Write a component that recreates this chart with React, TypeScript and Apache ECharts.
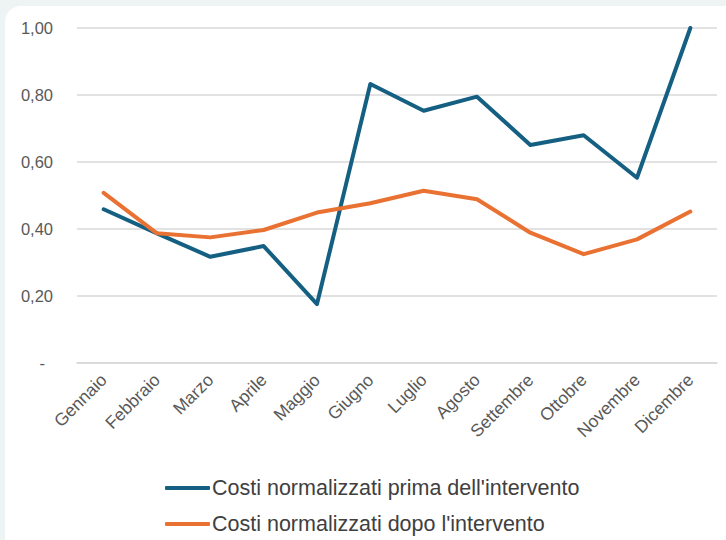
import React, { useEffect, useRef } from "react";
import * as echarts from "echarts";

const months = ["Gennaio", "Febbraio", "Marzo", "Aprile", "Maggio", "Giugno", "Luglio", "Agosto", "Settembre", "Ottobre", "Novembre", "Dicembre"];
const before = [0.459, 0.387, 0.317, 0.349, 0.176, 0.833, 0.753, 0.795, 0.651, 0.68, 0.553, 1.0];
const after = [0.508, 0.387, 0.375, 0.397, 0.449, 0.477, 0.514, 0.489, 0.389, 0.325, 0.369, 0.452];
const seriesNames = ["Costi normalizzati prima dell'intervento", "Costi normalizzati dopo l'intervento"];
const colors = ["#156082", "#E97132"];

export default function App() {
  const ref = useRef<HTMLDivElement>(null);
  useEffect(() => {
    document.body.style.margin = "0";
    const chart = echarts.init(ref.current!, null, { renderer: "svg" });
    const legendText = { fontFamily: "Liberation Sans", fontSize: 21.5, color: "#404040", lineHeight: 24, padding: [0, 0, 0, -3] };
    chart.setOption({
      animation: false,
      backgroundColor: "#eef4f4",
      graphic: [
        {
          type: "rect",
          z: -10,
          silent: true,
          shape: { x: 5, y: 6, width: 740, height: 560, r: 16 },
          style: { fill: "#ffffff" },
        },
      ],
      grid: { left: 77, right: 9, top: 28, bottom: 177 },
      legend: [
        {
          left: 165,
          top: 476,
          padding: 0,
          icon: "roundRect",
          itemWidth: 45,
          itemHeight: 4,
          textStyle: legendText,
          data: [seriesNames[0]],
        },
        {
          left: 165,
          top: 512,
          padding: 0,
          icon: "roundRect",
          itemWidth: 45,
          itemHeight: 4,
          textStyle: legendText,
          data: [seriesNames[1]],
        },
      ],
      xAxis: {
        type: "category",
        data: months,
        boundaryGap: true,
        axisLine: { lineStyle: { color: "#d9d9d9", width: 1.5 } },
        axisTick: { show: false },
        axisLabel: { rotate: 45, color: "#595959", fontSize: 17.5, fontFamily: "Liberation Sans", margin: 14, interval: 0 },
      },
      yAxis: {
        type: "value",
        min: 0,
        max: 1,
        interval: 0.2,
        axisLine: { show: false },
        axisTick: { show: false },
        splitLine: { lineStyle: { color: "#d9d9d9", width: 1.5 } },
        axisLabel: {
          color: "#595959",
          fontSize: 16.5,
          fontFamily: "Liberation Sans",
          margin: 24,
          formatter: (v: number) => (v === 0 ? "{d|-}" : v.toFixed(2).replace(".", ",")),
          rich: { d: { color: "#595959", fontSize: 16.5, fontFamily: "Liberation Sans", padding: [0, 8, 0, 0] } },
        },
      },
      series: [
        {
          name: seriesNames[0],
          type: "line",
          data: before,
          symbol: "none",
          lineStyle: { width: 4, color: colors[0], cap: "round", join: "round" },
          itemStyle: { color: colors[0] },
        },
        {
          name: seriesNames[1],
          type: "line",
          data: after,
          symbol: "none",
          lineStyle: { width: 4, color: colors[1], cap: "round", join: "round" },
          itemStyle: { color: colors[1] },
        },
      ],
    });
    return () => chart.dispose();
  }, []);
  return <div ref={ref} style={{ width: 726, height: 540 }} />;
}
